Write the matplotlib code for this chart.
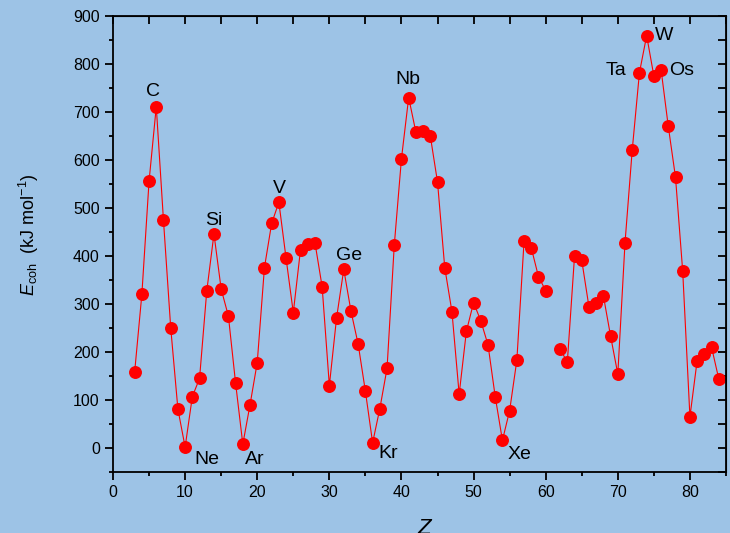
import numpy as np
import matplotlib
matplotlib.use("Agg")
import matplotlib.pyplot as plt
from matplotlib.ticker import MultipleLocator

plt.rcParams['font.family'] = ['Liberation Sans', 'DejaVu Sans']
plt.rcParams['mathtext.fontset'] = 'custom'
plt.rcParams['mathtext.rm'] = 'Liberation Sans'
plt.rcParams['mathtext.it'] = 'Liberation Sans:italic'

# atomic number and cohesive energy (kJ/mol); Pm (61) missing
Z = list(range(3, 85))
E_coh = [158, 320, 556, 711, 474, 251, 81, 2, 107, 145,
         327, 446, 331, 275, 135, 8, 90, 178, 376, 468,
         512, 395, 282, 413, 424, 428, 336, 130, 271, 372,
         285, 216, 118, 11, 82, 166, 422, 603, 730, 658,
         661, 650, 554, 376, 284, 112, 243, 303, 265, 215,
         107, 16, 78, 183, 431, 417, 357, 328, np.nan, 206,
         179, 400, 391, 294, 302, 317, 233, 154, 428, 621,
         782, 859, 775, 788, 670, 564, 368, 65, 182, 196,
         210, 144]

# element labels: (name, x, y) in data units
labels = ["C", "Si", "V", "Ge", "Nb", "Ta", "W", "Os", "Ne", "Ar", "Kr", "Xe"]
label_x = [5.6, 14.0, 23.1, 32.8, 40.9, 69.7, 76.4, 78.9, 13.0, 19.7, 38.2, 56.3]
label_y = [743, 475, 540, 402, 767, 787, 860, 787, -23, -23, -12, -14]

bg = '#9DC3E6'
fig = plt.figure(figsize=(7.3, 5.33), dpi=100, facecolor=bg)
ax = fig.add_axes([0.1548, 0.1144, 0.8397, 0.8556])
ax.set_facecolor(bg)

ax.plot(Z, E_coh, color='red', lw=0.8, marker='o', ms=8.3,
        markerfacecolor='red', markeredgecolor='red')

for name, x, y in zip(labels, label_x, label_y):
    ax.text(x, y, name, fontsize=14, ha='center', va='center')

ax.set_xlim(0, 85)
ax.set_ylim(-50, 900)
ax.xaxis.set_major_locator(MultipleLocator(10))
ax.xaxis.set_minor_locator(MultipleLocator(5))
ax.yaxis.set_major_locator(MultipleLocator(100))
ax.yaxis.set_minor_locator(MultipleLocator(50))
ax.set_yticks(np.arange(0, 901, 100))

for s in ax.spines.values():
    s.set_linewidth(1.3)

ax.tick_params(which='both', direction='out', width=1.3, labelsize=11.5)
ax.tick_params(which='major', length=6)
ax.tick_params(which='minor', length=3)

# inward ticks on top and right without labels, all one length
axt = ax.secondary_xaxis('top')
axt.xaxis.set_major_locator(MultipleLocator(5))
axt.tick_params(direction='in', width=1.3, length=6, labeltop=False)
axr = ax.secondary_yaxis('right')
axr.yaxis.set_major_locator(MultipleLocator(50))
axr.tick_params(direction='in', width=1.3, length=6, labelright=False)

ax.set_ylabel(r'$E_{\rm coh}$  (kJ mol$^{-1}$)', fontsize=13)
ax.yaxis.set_label_coords(-0.118, 0.52)
fig.text(0.582, -0.012, r'$Z$', fontsize=16, ha='center', va='bottom')

fig.savefig('out.png', dpi=100, facecolor=bg)
